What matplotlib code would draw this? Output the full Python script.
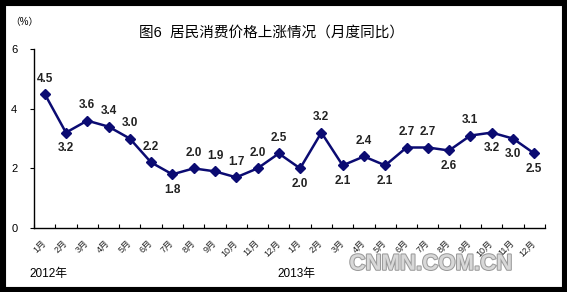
import numpy as np
import matplotlib
matplotlib.use("Agg")
import matplotlib.pyplot as plt
from matplotlib.patches import Rectangle
import matplotlib.patheffects as pe

plt.rcParams['font.family'] = ['Liberation Sans', 'Noto Sans CJK SC', 'DejaVu Sans']

# data
months = ['1月', '2月', '3月', '4月', '5月', '6月', '7月', '8月', '9月', '10月', '11月', '12月'] * 2
years = ['2012年', '2013年']
cpi = [4.5, 3.2, 3.6, 3.4, 3.0, 2.2, 1.8, 2.0, 1.9, 1.7, 2.0, 2.5,
       2.0, 3.2, 2.1, 2.4, 2.1, 2.7, 2.7, 2.6, 3.1, 3.2, 3.0, 2.5]

# label placement: 1 above, -1 below
side = [1, -1, 1, 1, 1, 1, -1, 1, 1, 1, 1, 1,
        -1, 1, -1, 1, -1, 1, 1, -1, 1, -1, -1, -1]

fig = plt.figure(figsize=(5.67, 2.92), dpi=100)
fig.patches.append(Rectangle((0, 0), 1, 1, transform=fig.transFigure,
                             fill=False, edgecolor='black', linewidth=8))
ax = fig.add_axes([0.06, 0.219, 0.901, 0.613])

x = np.arange(len(cpi))
navy = '#0b0b72'
ax.plot(x, cpi, color=navy, linewidth=1.8, marker='D', markersize=5, zorder=3)

for xi, v, s in zip(x, cpi, side):
    ax.annotate('%.1f' % v, (xi, v), xytext=(0, 11 * s), textcoords='offset points',
                ha='center', va='center', fontsize=8.5, fontweight='bold', color='#222222')

ax.set_xlim(-0.5, len(cpi) - 0.5)
ax.set_ylim(0, 6)
ax.set_yticks([0, 2, 4, 6])
ax.set_yticklabels(['0', '2', '4', '6'], fontsize=8)
ax.tick_params(axis='y', length=3, width=0.8, direction='out', pad=9)

ax.set_xticks(np.arange(len(cpi) + 1) - 0.5)
ax.set_xticklabels([])
ax.tick_params(axis='x', length=3, width=0.8, direction='in')
for xi, m in zip(x, months):
    ax.text(xi - 0.15, -0.35, m, rotation=45, ha='right', va='top',
            rotation_mode='anchor', fontsize=6.5, color='#222222')

ax.text(-0.7, -1.55, years[0], ha='left', va='center', fontsize=8.5)
ax.text(10.95, -1.55, years[1], ha='left', va='center', fontsize=8.5)

for sp in ['top', 'right']:
    ax.spines[sp].set_visible(False)
ax.spines['left'].set_linewidth(1)
ax.spines['bottom'].set_linewidth(1)

fig.text(0.478, 0.887, '图6  居民消费价格上涨情况（月度同比）', ha='center', va='center', fontsize=10.5)
fig.text(0.018, 0.925, '（%）', ha='left', va='center', fontsize=7)

fig.text(0.76, 0.095, 'CNMN.COM.CN', ha='center', va='center', fontsize=16,
         fontweight='bold', color='#d8d8d8',
         path_effects=[pe.withStroke(linewidth=1.5, foreground='#9a9a9a')])

fig.savefig('out.png', dpi=100)
